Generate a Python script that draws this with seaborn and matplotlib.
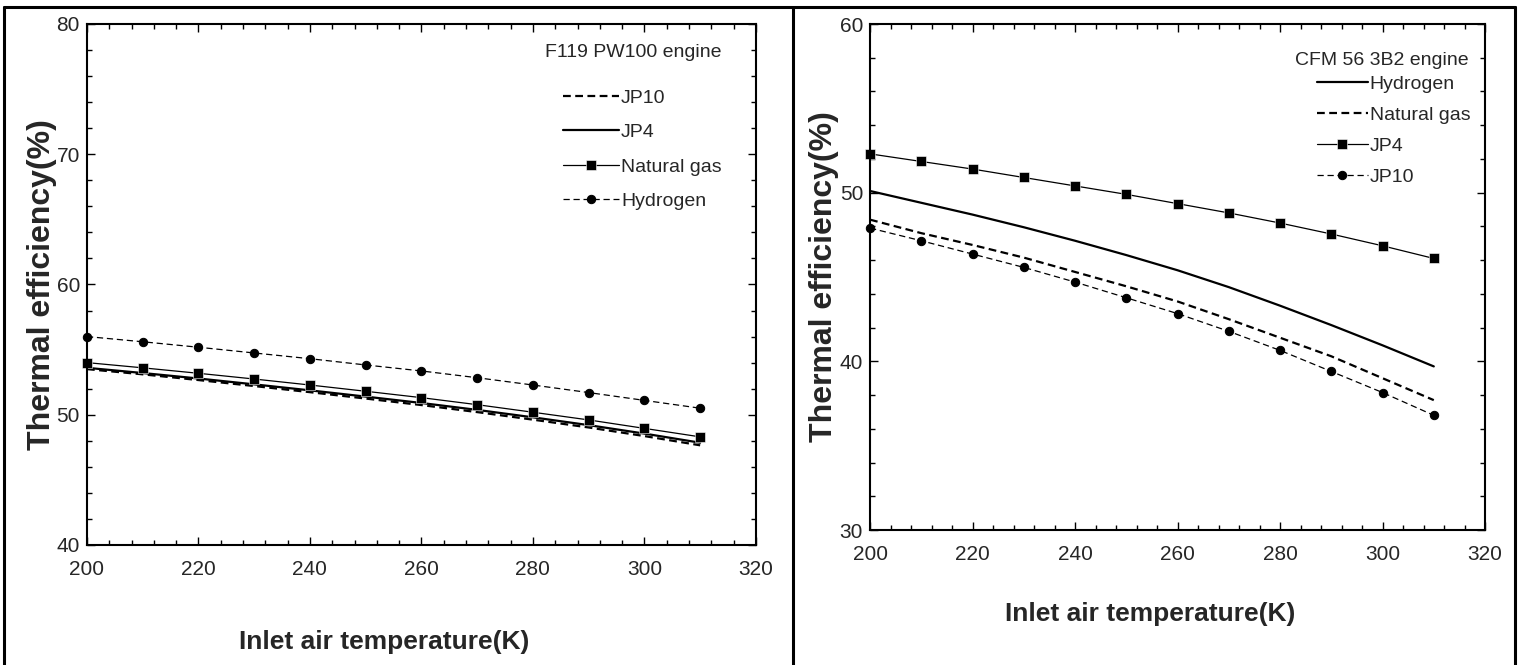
import matplotlib
matplotlib.use("Agg")
import matplotlib.pyplot as plt
import seaborn as sns
from matplotlib.lines import Line2D
from matplotlib.ticker import MultipleLocator

# inlet air temperature (K)
temps = [200, 210, 220, 230, 240, 250, 260, 270, 280, 290, 300, 310]

# F119 PW100 engine, thermal efficiency (%)
f119_jp10 = [53.5, 53.1, 52.66, 52.2, 51.73, 51.24, 50.74, 50.2, 49.62, 49.02, 48.36, 47.65]
f119_jp4 = [53.6, 53.2, 52.78, 52.33, 51.87, 51.39, 50.9, 50.37, 49.8, 49.2, 48.55, 47.85]
f119_ng = [54.0, 53.6, 53.18, 52.74, 52.28, 51.8, 51.31, 50.77, 50.19, 49.6, 48.95, 48.3]
f119_h2 = [56.0, 55.6, 55.18, 54.74, 54.3, 53.82, 53.36, 52.84, 52.28, 51.7, 51.1, 50.5]

# CFM 56 3B2 engine, thermal efficiency (%)
cfm_h2 = [50.1, 49.4, 48.7, 47.95, 47.15, 46.3, 45.4, 44.4, 43.3, 42.15, 40.95, 39.7]
cfm_ng = [48.4, 47.6, 46.9, 46.15, 45.3, 44.45, 43.55, 42.5, 41.4, 40.3, 39.0, 37.7]
cfm_jp4 = [52.3, 51.85, 51.4, 50.9, 50.4, 49.9, 49.35, 48.8, 48.2, 47.55, 46.85, 46.1]
cfm_jp10 = [47.9, 47.15, 46.36, 45.57, 44.7, 43.77, 42.83, 41.78, 40.65, 39.4, 38.15, 36.8]

sns.set_style("ticks")
plt.rcParams['font.family'] = ['Liberation Sans', 'DejaVu Sans']

fig = plt.figure(figsize=(15.2, 6.65), dpi=100)
ax1 = fig.add_axes([0.0572, 0.1805, 0.4401, 0.7835])
ax2 = fig.add_axes([0.5724, 0.2030, 0.4046, 0.7609])

thick = dict(color='black', lw=1.6)
thin = dict(color='black', lw=0.9)
dash_thick = (0, (3.5, 2))
dash_thin = (0, (5, 3))
sq = dict(marker='s', markersize=7, markeredgecolor='white', markeredgewidth=0.4, clip_on=False)
dot = dict(marker='o', markersize=6, markeredgecolor='black', clip_on=False)

# left panel
sns.lineplot(x=temps, y=f119_jp10, ax=ax1, linestyle=dash_thick, label='JP10', **thick)
sns.lineplot(x=temps, y=f119_jp4, ax=ax1, linestyle='-', label='JP4', **thick)
sns.lineplot(x=temps, y=f119_ng, ax=ax1, linestyle='-', label='Natural gas', **sq, **thin)
sns.lineplot(x=temps, y=f119_h2, ax=ax1, linestyle=dash_thin, label='Hydrogen', **dot, **thin)

# right panel
sns.lineplot(x=temps, y=cfm_h2, ax=ax2, linestyle='-', label='Hydrogen', **thick)
sns.lineplot(x=temps, y=cfm_ng, ax=ax2, linestyle=dash_thick, label='Natural gas', **thick)
sns.lineplot(x=temps, y=cfm_jp4, ax=ax2, linestyle='-', label='JP4', **sq, **thin)
sns.lineplot(x=temps, y=cfm_jp10, ax=ax2, linestyle=dash_thin, label='JP10', **dot, **thin)

panels = [
    (ax1, (40, 80), 'F119 PW100 engine', (0.685, 0.946), (0.711, 0.875), 0.87, 2.9),
    (ax2, (30, 60), 'CFM 56 3B2 engine', (0.691, 0.927), (0.727, 0.899), 0.69, 2.6),
]
for ax, ylim, title, tpos, lpos, lspace, hlen in panels:
    ax.set_xlim(200, 320)
    ax.set_ylim(*ylim)
    ax.xaxis.set_major_locator(MultipleLocator(20))
    ax.xaxis.set_minor_locator(MultipleLocator(4))
    ax.yaxis.set_major_locator(MultipleLocator(10))
    ax.yaxis.set_minor_locator(MultipleLocator(2))
    ax.tick_params(which='both', direction='in', top=True, right=True,
                   labelsize=15, width=1.0, color='black')
    ax.tick_params(axis='x', which='major', length=6, pad=11)
    ax.tick_params(axis='y', which='major', length=6, pad=5)
    ax.tick_params(which='minor', length=3.5)
    for sp in ax.spines.values():
        sp.set_linewidth(1.5)
        sp.set_color('black')
    ax.set_xlabel('Inlet air temperature(K)', fontsize=19, fontweight='bold')
    ax.set_ylabel('Thermal efficiency(%)', fontsize=23, fontweight='bold')
    ax.text(*tpos, title, transform=ax.transAxes, fontsize=14, va='center', ha='left')
    ax.legend(loc='upper left', bbox_to_anchor=lpos, frameon=False,
              handlelength=hlen, handletextpad=0.1, labelspacing=lspace,
              borderpad=0, borderaxespad=0, fontsize=14)

ax1.xaxis.set_label_coords(0.445, -0.163)
ax1.yaxis.set_label_coords(-0.045, 0.50)
ax2.xaxis.set_label_coords(0.455, -0.142)
ax2.yaxis.set_label_coords(-0.051, 0.50)

# table-like frame around the two panels
H, W = 665, 1520
frame = dict(color='black', lw=2.2, transform=fig.transFigure)
fig.add_artist(Line2D([4 / W, 1515 / W], [1 - 7 / H, 1 - 7 / H], **frame))
fig.add_artist(Line2D([4 / W, 4 / W], [0, 1 - 7 / H], **frame))
fig.add_artist(Line2D([793 / W, 793 / W], [0, 1 - 7 / H], **frame))
fig.add_artist(Line2D([1515 / W, 1515 / W], [0, 1 - 7 / H], **frame))

fig.savefig('out.png', dpi=100)
